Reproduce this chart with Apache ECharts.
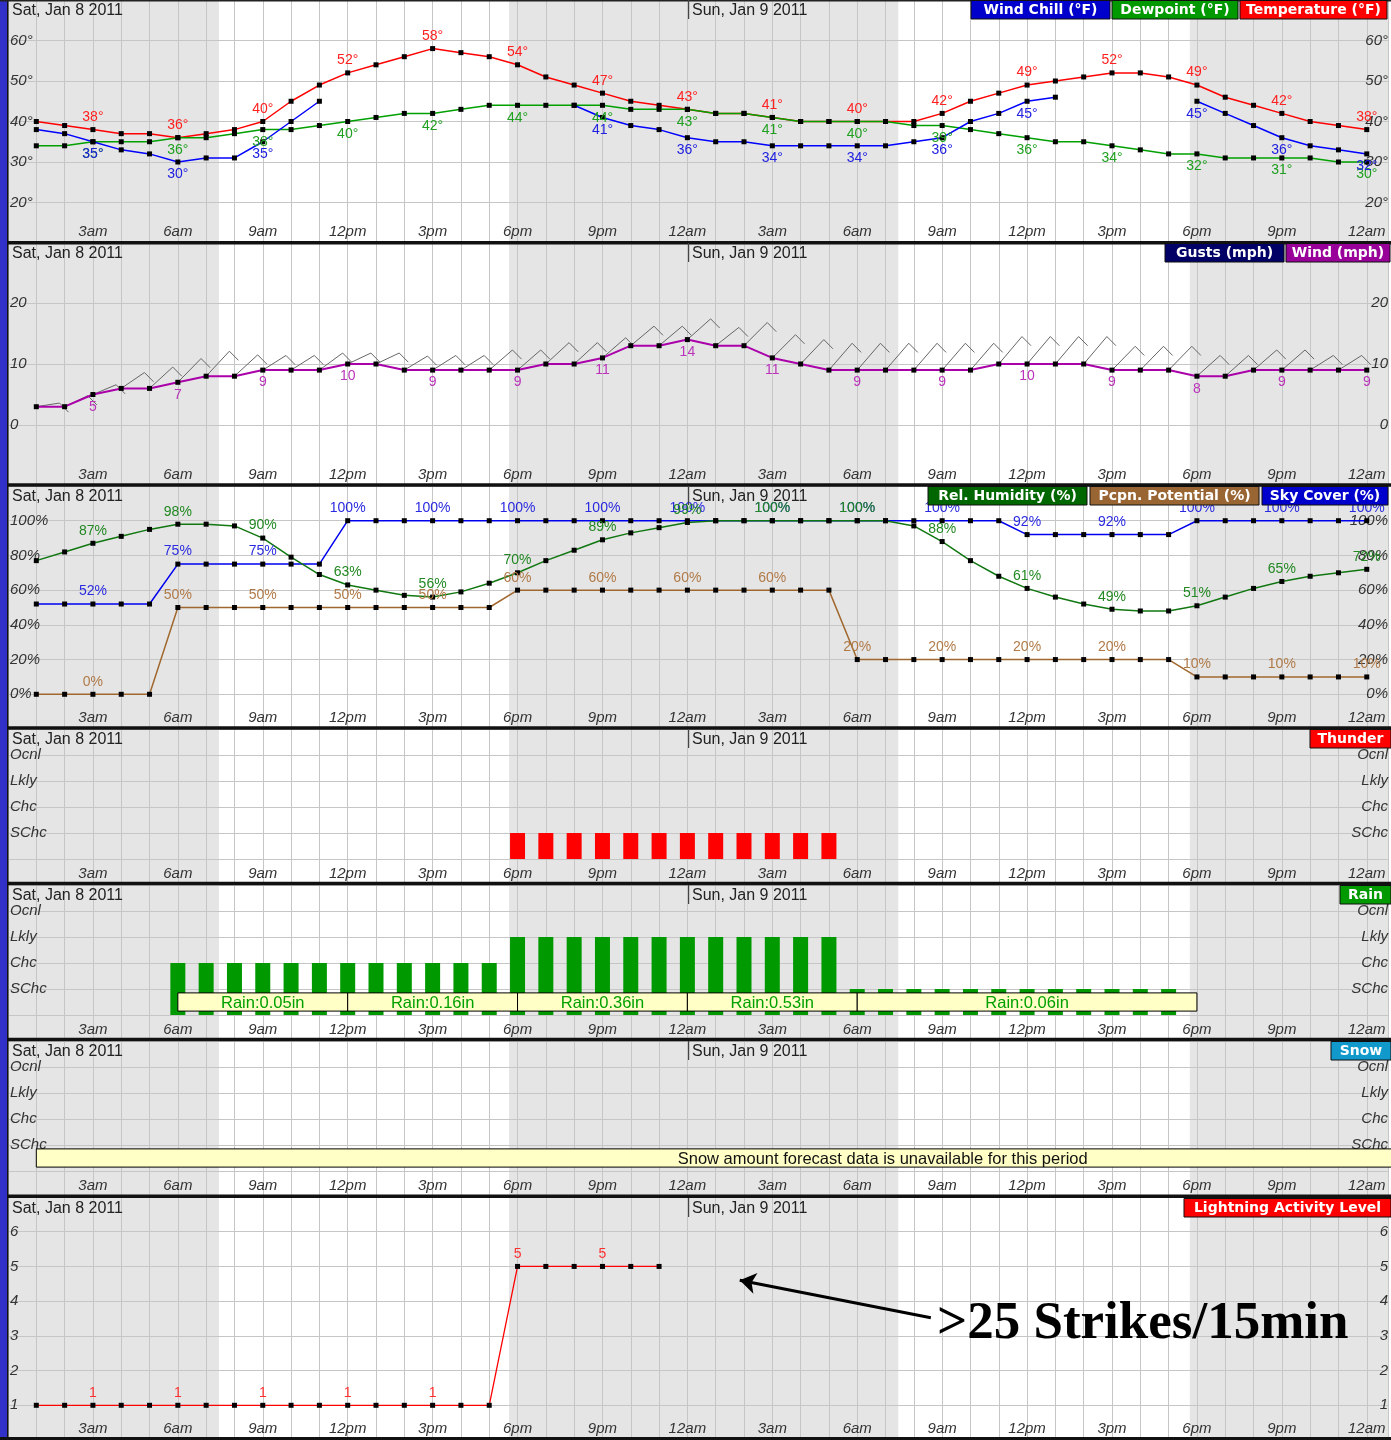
<!DOCTYPE html>
<html>
<head>
<meta charset="utf-8">
<title>Hourly Weather Forecast Graph</title>
<script src="https://cdn.jsdelivr.net/npm/echarts@6.0.0/dist/echarts.min.js"></script>
<style>
html,body{margin:0;padding:0;background:#fff;}
#chart{width:1391px;height:1440px;}
</style>
</head>
<body>
<div id="chart"></div>
<script>
// ---------------- data ----------------
const hours = [1,2,3,4,5,6,7,8,9,10,11,12,13,14,15,16,17,18,19,20,21,22,23,24,
               25,26,27,28,29,30,31,32,33,34,35,36,37,38,39,40,41,42,43,44,45,46,47,48];
const hourNames = ['12am','3am','6am','9am','12pm','3pm','6pm','9pm'];
const dayNames = ['Sat, Jan 8 2011', 'Sun, Jan 9 2011'];
const levelNames = ['', 'SChc', 'Chc', 'Lkly', 'Ocnl'];

const nightStart = [0, 17.7, 41.75];
const nightEnd   = [7.45, 31.45, 48.75];

const temperature = [40,39,38,37,37,36,37,38,40,45,49,52, 54,56,58,57,56,54,51,49,47,45,44,43,
                     42,42,41,40,40,40,40,40,42,45,47,49, 50,51,52,52,51,49,46,44,42,40,39,38];
const dewpoint    = [34,34,35,35,35,36,36,37,38,38,39,40, 41,42,42,43,44,44,44,44,44,43,43,43,
                     42,42,41,40,40,40,40,39,39,38,37,36, 35,35,34,33,32,32,31,31,31,31,30,30];
const windChill   = [38,37,35,33,32,30,31,31,35,40,45,null, null,null,null,null,null,null,null,44,41,39,38,36,
                     35,35,34,34,34,34,34,35,36,40,42,45, 46,null,null,null,null,45,42,39,36,34,33,32];

const wind  = [3,3,5,6,6,7,8,8,9,9,9,10, 10,9,9,9,9,9,10,10,11,13,13,14,
               13,13,11,10,9,9,9,9,9,9,10,10, 10,10,9,9,9,8,8,9,9,9,9,9];
const gusts = [3.6,4.8,6.6,8.6,9.5,10.9,12.1,11.5,11.4,11.4,11.8,11.8, 11.8,11.3,11.4,11.4,12.3,12.3,13.5,13.5,14.3,16.2,16.2,17.4,
               16,16.8,14.8,14,13.4,13.4,13.4,13.4,13.4,13.4,14.5,14.5, 14.5,14.5,12.9,12.9,12.9,11.4,11.4,12.3,12.3,11.4,11.4];

const relHumidity   = [77,82,87,91,95,98,98,97,90,79,69,63, 60,57,56,59,64,70,77,83,89,93,96,99,
                       100,100,100,100,100,100,100,97,88,77,68,61, 56,52,49,48,48,51,56,61,65,68,70,72];
const pcpnPotential = [0,0,0,0,0,50,50,50,50,50,50,50, 50,50,50,50,50,60,60,60,60,60,60,60,
                       60,60,60,60,60,20,20,20,20,20,20,20, 20,20,20,20,20,10,10,10,10,10,10,10];
const skyCover      = [52,52,52,52,52,75,75,75,75,75,75,100, 100,100,100,100,100,100,100,100,100,100,100,100,
                       100,100,100,100,100,100,100,100,100,100,100,92, 92,92,92,92,92,100,100,100,100,100,100,100];

// 1 = SChc, 2 = Chc, 3 = Lkly, 4 = Ocnl
const thunder = [null,null,null,null,null,null,null,null,null,null,null,null, null,null,null,null,null,1,1,1,1,1,1,1,
                 1,1,1,1,1,null,null,null,null,null,null,null, null,null,null,null,null,null,null,null,null,null,null,null];
const rain    = [null,null,null,null,null,2,2,2,2,2,2,2, 2,2,2,2,2,3,3,3,3,3,3,3,
                 3,3,3,3,3,1,1,1,1,1,1,1, 1,1,1,1,1,null,null,null,null,null,null,null];
const rainStart = [6, 12, 18, 24, 30];
const rainEnd   = [12, 18, 24, 30, 42];
const rainTotal = ['0.05', '0.16', '0.36', '0.53', '0.06'];
const snowStart = [1];
const snowEnd   = [60.8];
const snowNote  = ['Snow amount forecast data is unavailable for this period'];

const lightning = [1,1,1,1,1,1,1,1,1,1,1,1, 1,1,1,1,1,5,5,5,5,5,5,null,
                   null,null,null,null,null,null,null,null,null,null,null,null, null,null,null,null,null,null,null,null,null,null,null,null];

// ---------------- layout / style ----------------
const FONT = '"Liberation Sans", Arial, sans-serif';
const LEG_FONT = '"DejaVu Sans", Verdana, sans-serif';
const GRIDC = '#c6c6c6';

const panels = [
  {top:-2,   height:245, min:10,  max:70,  step:10, pad:2, label: v => (v >= 20 && v <= 60) ? v + '°' : ''},
  {top:242,  height:244, min:-10, max:30,  step:10, pad:2, label: v => (v >= 0 && v <= 20) ? String(v) : ''},
  {top:486,  height:243, min:-20, max:120, step:20, pad:2, label: v => (v >= 0 && v <= 100) ? v + '%' : ''},
  {top:729,  height:156, min:-1,  max:5,   step:1,  pad:8, label: v => (v >= 1 && v <= 4) ? levelNames[v] : ''},
  {top:885,  height:156, min:-1,  max:5,   step:1,  pad:8, label: v => (v >= 1 && v <= 4) ? levelNames[v] : ''},
  {top:1041, height:156, min:-1,  max:5,   step:1,  pad:8, label: v => (v >= 1 && v <= 4) ? levelNames[v] : ''},
  {top:1197, height:243, min:0,   max:7,   step:1,  pad:2, label: v => (v >= 1 && v <= 6) ? String(v) : ''}
];
const headerTops = [0, 243, 486, 729, 885, 1041, 1198];
const borders = [242.7, 485, 728, 883.5, 1039.5, 1196.3];
const legends = [
  [[971,1110,'#0000cc','Wind Chill (°F)'],[1112,1238,'#009900','Dewpoint (°F)'],[1240,1387,'#ff0000','Temperature (°F)']],
  [[1165,1284,'#000066','Gusts (mph)'],[1286,1390,'#990099','Wind (mph)']],
  [[928,1087,'#006600','Rel. Humidity (%)'],[1090,1259,'#996633','Pcpn. Potential (%)'],[1262,1388,'#0000cc','Sky Cover (%)']],
  [[1310,1391,'#ff0000','Thunder']],
  [[1340,1391,'#009900','Rain']],
  [[1331,1391,'#1199cc','Snow']],
  [[1184,1391,'#ff0000','Lightning Activity Level']]
];

const grid = panels.map(p => ({left: 8, width: 1383, top: p.top, height: p.height}));
const xAxis = panels.map((p, i) => ({
  type: 'value', gridIndex: i, min: 0, max: 48.75, interval: 1, z: 1,
  axisLine: {show: false}, axisTick: {show: false},
  splitLine: {show: true, lineStyle: {color: GRIDC, width: 1}},
  axisLabel: {inside: true, margin: 4, fontStyle: 'italic', fontSize: 15, color: '#333', fontFamily: FONT,
    formatter: v => (v > 0 && v % 3 === 0) ? hourNames[(v / 3) % 8] : ''}
}));
const yAxis = [];
panels.forEach((p, i) => {
  yAxis.push({type: 'value', gridIndex: i, min: p.min, max: p.max, interval: p.step, position: 'left', z: 1,
    axisLine: {show: false}, axisTick: {show: false},
    splitLine: {show: true, lineStyle: {color: GRIDC, width: 1}},
    axisLabel: {inside: true, margin: 2, fontStyle: 'italic', fontSize: 15, color: '#333', fontFamily: FONT,
      verticalAlign: 'middle', padding: [0, 0, p.pad, 0], formatter: p.label}});
  yAxis.push({type: 'value', gridIndex: i, min: p.min, max: p.max, interval: p.step, position: 'right', z: 1,
    axisLine: {show: false}, axisTick: {show: false}, splitLine: {show: false},
    axisLabel: {inside: true, margin: 0, fontStyle: 'italic', fontSize: 15, color: '#333', fontFamily: FONT,
      verticalAlign: 'middle', padding: [0, 0, p.pad, 0], formatter: p.label}});
});

const series = [];
// night shading
panels.forEach((p, i) => {
  series.push({
    type: 'custom', xAxisIndex: i, yAxisIndex: 2 * i, z: 0, silent: true, animation: false,
    data: nightStart.map((s, k) => [s, nightEnd[k]]), encode: {x: [0, 1]},
    renderItem: (params, api) => {
      const cs = params.coordSys;
      const x0 = api.coord([api.value(0), p.min])[0];
      const x1 = api.coord([api.value(1), p.min])[0];
      return {type: 'rect', shape: {x: x0, y: cs.y, width: x1 - x0, height: cs.height}, style: {fill: '#e5e5e5'}};
    }
  });
});

function lineSeries(gi, name, arr, color, lblColor, pos, fmt, width) {
  return {
    name, type: 'line', xAxisIndex: gi, yAxisIndex: 2 * gi, z: 2,
    data: hours.map((h, i) => [h, arr[i]]),
    symbol: 'rect', symbolSize: 5, showSymbol: true, connectNulls: false,
    lineStyle: {color, width: width || 1.5}, itemStyle: {color: '#000'},
    label: {show: true, position: pos, distance: 3, color: lblColor, fontSize: 14, fontFamily: FONT,
      formatter: pp => (pp.value[0] % 3 === 0 && pp.value[1] != null) ? fmt(pp.value[1]) : ''},
    emphasis: {disabled: true}, animation: false
  };
}
const deg = v => v + '°', pct = v => v + '%', num = v => String(v);

// panel 1
series.push(lineSeries(0, 'Temperature (°F)', temperature, '#ff0000', '#ff2020', 'top', deg));
series.push(lineSeries(0, 'Dewpoint (°F)', dewpoint, '#00a000', '#20a020', 'bottom', deg));
series.push(lineSeries(0, 'Wind Chill (°F)', windChill, '#0000ff', '#2020e0', 'bottom', deg));
// panel 2
series.push({
  name: 'Gusts (mph)', type: 'custom', xAxisIndex: 1, yAxisIndex: 2, z: 2, silent: true, animation: false,
  data: gusts.map((g, k) => [hours[k], wind[k], g]), encode: {x: 0, y: [1, 2]},
  renderItem: (params, api) => {
    const h = api.value(0), w = api.value(1), g = api.value(2);
    return {type: 'polyline', shape: {points: [api.coord([h, w]), api.coord([h + 0.82, g]), api.coord([h + 1.14, g - 1.5])]},
      style: {stroke: '#666', lineWidth: 1, fill: null}};
  }
});
series.push(lineSeries(1, 'Wind (mph)', wind, '#aa00aa', '#bb33bb', 'bottom', num, 2));
// panel 3
series.push(lineSeries(2, 'Pcpn. Potential (%)', pcpnPotential, '#a0682e', '#b07a48', 'top', pct));
series.push(lineSeries(2, 'Sky Cover (%)', skyCover, '#0000ee', '#2a2ae0', 'top', pct));
series.push(lineSeries(2, 'Rel. Humidity (%)', relHumidity, '#117711', '#228822', 'top', pct));
// panel 4
series.push({name: 'Thunder', type: 'bar', xAxisIndex: 3, yAxisIndex: 6, z: 2, barWidth: 15, animation: false,
  data: hours.map((h, i) => [h, thunder[i]]), itemStyle: {color: '#ff0000'}, emphasis: {disabled: true}});
// panel 5
series.push({name: 'Rain', type: 'bar', xAxisIndex: 4, yAxisIndex: 8, z: 2, barWidth: 15, animation: false,
  data: hours.map((h, i) => [h, rain[i]]), itemStyle: {color: '#009900'}, emphasis: {disabled: true}});
function boxSeries(gi, starts, ends, textOf, color, fsize) {
  return {
    type: 'custom', xAxisIndex: gi, yAxisIndex: 2 * gi, z: 3, silent: true, animation: false,
    data: starts.map((s, k) => [s, ends[k]]), encode: {x: [0, 1]},
    renderItem: (params, api) => {
      const i = params.dataIndex;
      const a = api.coord([api.value(0), 0.85]);
      const b = api.coord([api.value(1), 0.15]);
      return {type: 'group', children: [
        {type: 'rect', shape: {x: a[0], y: a[1], width: b[0] - a[0], height: b[1] - a[1]},
          style: {fill: '#ffffc6', stroke: '#000', lineWidth: 1}},
        {type: 'text', style: {text: textOf(i), x: (a[0] + b[0]) / 2, y: (a[1] + b[1]) / 2 + 1,
          align: 'center', verticalAlign: 'middle', textAlign: 'center', textVerticalAlign: 'middle',
          fill: color, fontSize: fsize, fontFamily: FONT}}
      ]};
    }
  };
}
series.push(boxSeries(4, rainStart, rainEnd, i => 'Rain:' + rainTotal[i] + 'in', '#00a000', 16.5));
// panel 6
series.push(boxSeries(5, snowStart, snowEnd, i => snowNote[i], '#111', 16.5));
// panel 7
const light = lineSeries(6, 'Lightning Activity Level', lightning, '#ff0000', '#ff3030', 'top', num, 1.3);
light.markLine = {
  silent: true, animation: false, symbol: ['none', 'arrow'], symbolSize: 16,
  lineStyle: {color: '#000', width: 3, type: 'solid'}, label: {show: false},
  data: [[{coord: [32.6, 3.52]}, {coord: [25.85, 4.6]}]]
};
series.push(light);

// ---------------- graphics: frame, headers, legends ----------------
const graphic = [];
graphic.push({type: 'rect', z: 100, shape: {x: 0, y: 0, width: 7, height: 1440}, style: {fill: '#3131c9'}});
graphic.push({type: 'rect', z: 100, shape: {x: 7, y: 0, width: 1.5, height: 1440}, style: {fill: '#111'}});
graphic.push({type: 'rect', z: 100, shape: {x: 0, y: 0, width: 1391, height: 1.5}, style: {fill: '#222'}});
graphic.push({type: 'rect', z: 100, shape: {x: 0, y: 1437, width: 1391, height: 3}, style: {fill: '#111'}});
borders.forEach(b => graphic.push({type: 'rect', z: 100, shape: {x: 7, y: b - 1.75, width: 1384, height: 3.5}, style: {fill: '#111'}}));
headerTops.forEach((t, i) => {
  graphic.push({type: 'text', z: 100, style: {text: dayNames[0], x: 12, y: t + 11, fill: '#222',
    font: '16px ' + FONT, textVerticalAlign: 'middle', verticalAlign: 'middle'}});
  graphic.push({type: 'text', z: 100, style: {text: dayNames[1], x: 692, y: t + 11, fill: '#222',
    font: '16px ' + FONT, textVerticalAlign: 'middle', verticalAlign: 'middle'}});
  graphic.push({type: 'rect', z: 100, shape: {x: 688, y: t, width: 1.2, height: 19}, style: {fill: '#444'}});
  legends[i].forEach(L => {
    graphic.push({type: 'rect', z: 101, shape: {x: L[0], y: t + 0.5, width: L[1] - L[0], height: 18.5},
      style: {fill: L[2], stroke: '#111', lineWidth: 1}});
    graphic.push({type: 'text', z: 102, style: {text: L[3], x: (L[0] + L[1]) / 2, y: t + 10, fill: '#fff',
      font: 'bold 14px ' + LEG_FONT, textAlign: 'center', align: 'center', textVerticalAlign: 'middle', verticalAlign: 'middle'}});
  });
});
graphic.push({type: 'text', z: 100, style: {text: '>25 Strikes/15min', x: 937, y: 1324, fill: '#000',
  font: 'bold 53px "Liberation Serif", "Times New Roman", serif', textVerticalAlign: 'middle', verticalAlign: 'middle'}});

const chart = echarts.init(document.getElementById('chart'), null, {renderer: 'canvas', width: 1391, height: 1440});
chart.setOption({
  animation: false, backgroundColor: '#ffffff',
  grid, xAxis, yAxis, series, graphic
});
</script>
</body>
</html>
